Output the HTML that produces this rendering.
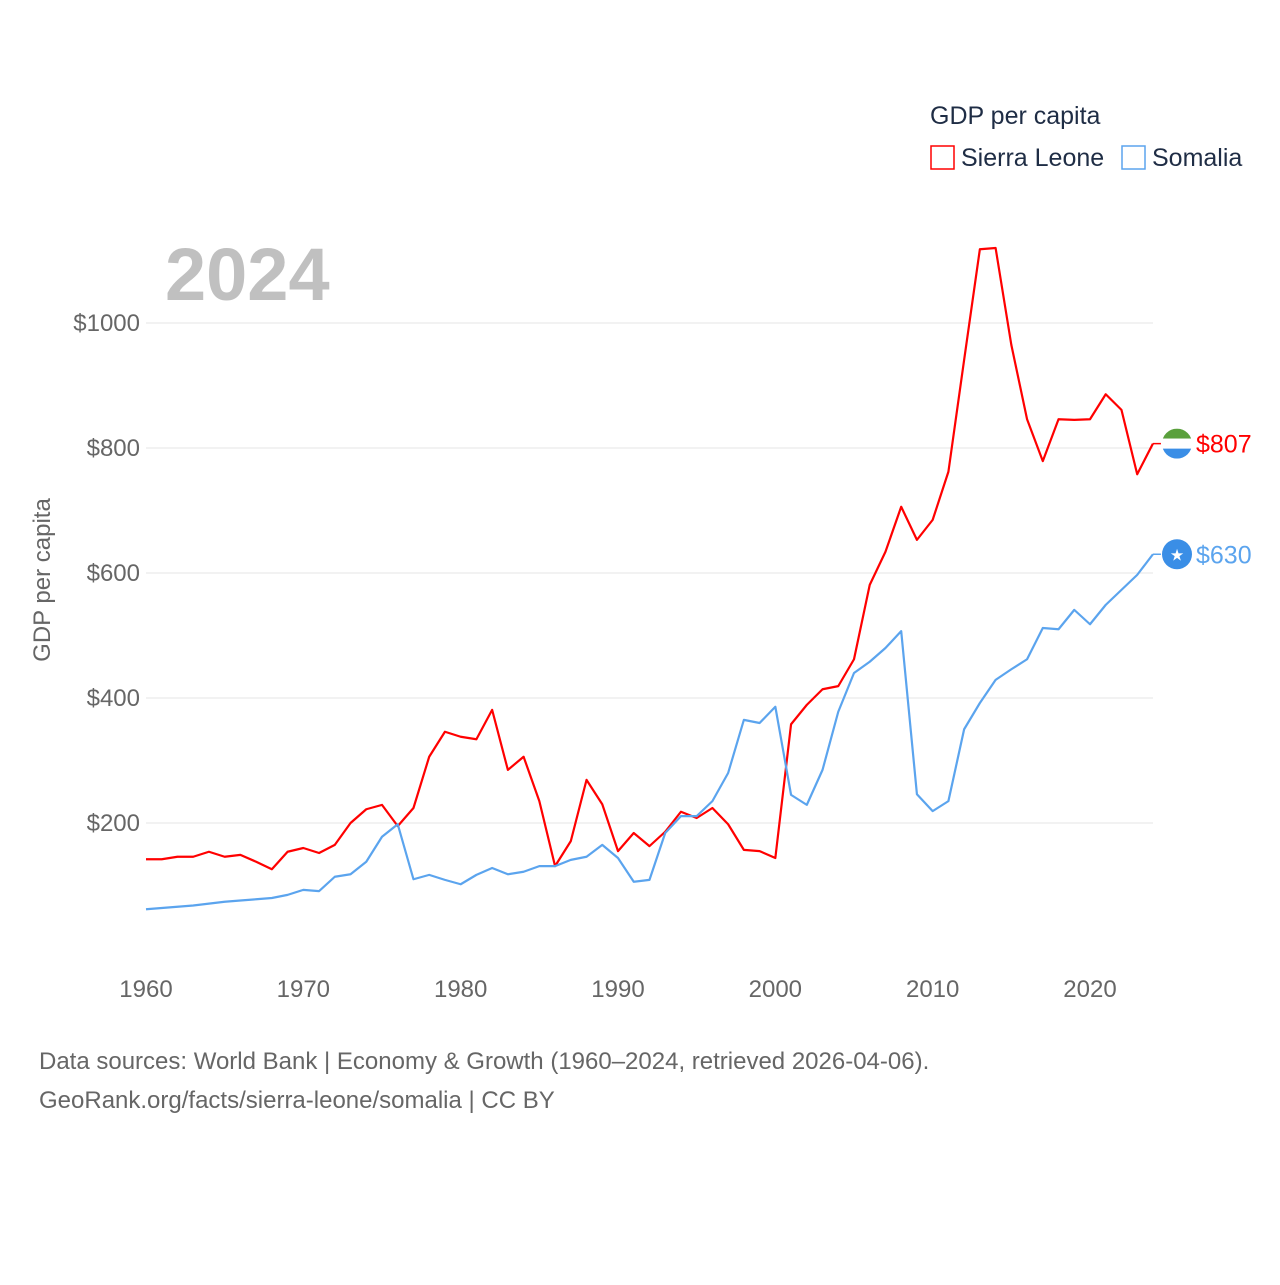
<!DOCTYPE html>
<html><head><meta charset="utf-8"><style>
body{margin:0;background:#fff;font-family:"Liberation Sans",sans-serif}
svg text{font-family:"Liberation Sans",sans-serif}
</style></head><body>
<svg id="chart" width="1280" height="1280" viewBox="0 0 1280 1280">
<text x="930" y="124" font-size="25" fill="#1f2d45">GDP per capita</text>
<g><rect x="931" y="146" width="23" height="23" fill="none" stroke="#ff0000" stroke-width="1.5"/><text x="961" y="166" font-size="25" fill="#1f2d45">Sierra Leone</text></g>
<g><rect x="1122" y="146" width="23" height="23" fill="none" stroke="#5ba4ee" stroke-width="1.5"/><text x="1152" y="166" font-size="25" fill="#1f2d45">Somalia</text></g>
<text x="165" y="300" font-size="74" font-weight="bold" fill="#c0c0c0">2024</text>
<g id="grid"></g><g id="yticks"></g><g id="xticks"></g><g id="lines"></g>
<text transform="translate(50,580) rotate(-90)" text-anchor="middle" font-size="24" fill="#666">GDP per capita</text>
<text x="39" y="1069" font-size="24" fill="#666">Data sources: World Bank | Economy &amp; Growth (1960–2024, retrieved 2026-04-06).</text>
<text x="39" y="1108" font-size="24" fill="#666">GeoRank.org/facts/sierra-leone/somalia | CC BY</text>
</svg>
<script>
const years=[];for(let y=1960;y<=2024;y++)years.push(y);
const sierraLeone=[142,142,146,146,154,146,149,138,126,154,160,152,165,200,222,229,195,224,306,346,338,334,381,285,306,235,131,171,269,230,155,184,163,186,218,208,224,198,157,155,144,358,389,414,419,462,581,634,706,653,685,762,941,1118,1120,965,846,779,846,845,846,886,861,758,807];
const somalia=[62,64,66,68,71,74,76,78,80,85,93,91,114,118,138,178,198,110,117,109,102,117,128,118,122,131,131,141,146,165,144,106,109,184,211,211,235,280,365,360,386,245,229,285,378,440,458,480,507,246,219,235,350,392,429,446,462,512,510,541,518,549,573,597,630];
const yTicks=[200,400,600,800,1000];
const xTicks=[1960,1970,1980,1990,2000,2010,2020];
const NS='http://www.w3.org/2000/svg';
const X=y=>146+(y-1960)*944/60;
const Y=v=>948-v*0.625;
function mk(t,a,p){const e=document.createElementNS(NS,t);for(const k in a)e.setAttribute(k,a[k]);p.appendChild(e);return e;}
const grid=document.getElementById('grid'),yt=document.getElementById('yticks'),xt=document.getElementById('xticks'),lines=document.getElementById('lines');
yTicks.forEach(v=>{
 const l=mk('line',{x1:146,x2:1153,y1:Y(v),y2:Y(v),stroke:'#e6e6e6','stroke-width':1},grid);
 
 
 const t=mk('text',{x:140,y:Y(v)+8,'text-anchor':'end','font-size':24,fill:'#666'},yt);t.textContent='$'+v;
 
 
});
xTicks.forEach(v=>{
 const t=mk('text',{x:X(v),y:997,'text-anchor':'middle','font-size':24,fill:'#666'},xt);t.textContent=v;
 
 
});
function series(vals,color,name){
 const p=mk('polyline',{points:vals.map((v,i)=>X(years[i])+','+Y(v)).join(' '),fill:'none',stroke:color,'stroke-width':2.2,'stroke-linejoin':'round'},lines);
 
 
 const last=vals[vals.length-1],ly=Y(last),lx=X(years[years.length-1]);
 mk('line',{x1:lx,x2:lx+8,y1:ly,y2:ly,stroke:color,'stroke-width':1.5},lines);
 const t=mk('text',{x:1196,y:ly+9,'font-size':25,fill:color},lines);t.textContent='$'+last;
 
 
 return ly;
}
const y1=series(sierraLeone,'#ff0000','sierra-leone');
const y2=series(somalia,'#5ba4ee','somalia');
// flags
const f1=mk('g',{},lines);


mk('clipPath',{id:'c1'},f1).appendChild(document.createElementNS(NS,'circle'));
const c1=f1.querySelector('circle');c1.setAttribute('cx',1177);c1.setAttribute('cy',y1);c1.setAttribute('r',15);
const g1=mk('g',{'clip-path':'url(#c1)'},f1);
mk('rect',{x:1162,y:y1-15,width:30,height:10,fill:'#5aa03c'},g1);
mk('rect',{x:1162,y:y1-5,width:30,height:10,fill:'#fff'},g1);
mk('rect',{x:1162,y:y1+5,width:30,height:10,fill:'#3a8ee6'},g1);
const f2=mk('g',{},lines);


mk('circle',{cx:1177,cy:y2,r:15,fill:'#3a8ee6'},f2);
const st=mk('text',{x:1177,y:y2+6,'text-anchor':'middle','font-size':16,fill:'#fff'},f2);st.textContent='★';
</script>
</body></html>
